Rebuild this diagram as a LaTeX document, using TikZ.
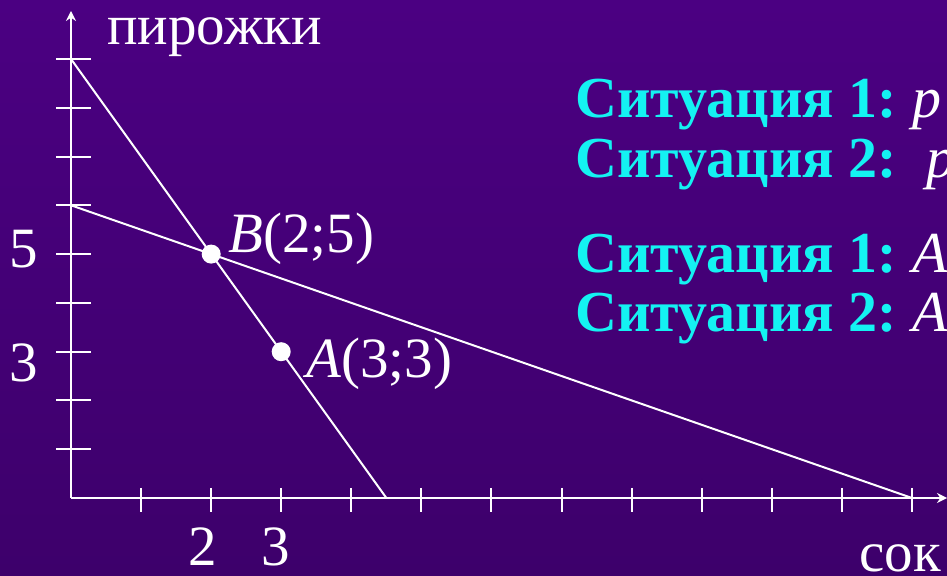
\documentclass[tikz,border=0pt]{standalone}
\usepackage{fontspec}
\setmainfont{Liberation Serif}
\usetikzlibrary{arrows.meta}
\definecolor{bgtop}{HTML}{4B0082}
\definecolor{bgbot}{HTML}{3D006B}
\definecolor{sitcol}{HTML}{14F2F2}
\begin{document}
\begin{tikzpicture}[x=0.5pt,y=-0.5pt,
  axis/.style={white,line width=1pt},
  tickmark/.style={white,line width=1pt},
  budget/.style={white,line width=1pt},
  dot/.style={circle,fill=white,inner sep=0pt,minimum size=9.5pt},
  lab/.style={text=white,inner sep=0pt,font=\fontsize{28.5}{32}\selectfont},
  sit/.style={text=sitcol,inner sep=0pt,anchor=base west,font=\bfseries\fontsize{29}{33}\selectfont}]
\shade[top color=bgtop,bottom color=bgbot] (0,0) rectangle (947,576);
\useasboundingbox (0,0) rectangle (947,576);
% axes
\coordinate (O) at (71,498);
\coordinate (Ytop) at (71,11);
\coordinate (Xend) at (947,498);
\draw[axis,-{Stealth[length=5pt,width=5pt]}] (O) -- (Ytop);
\draw[axis,-{Stealth[length=5pt,width=5pt]}] (O) -- (Xend);
\foreach \k in {1,...,9}
  \draw[tickmark] (56,{498-\k*48.78}) -- (91,{498-\k*48.78});
\foreach \k in {1,...,12}
  \draw[tickmark] ({71+\k*70.08},488) -- ({71+\k*70.08},512);
% budget lines
\coordinate (Y9) at (71,59);
\coordinate (X45) at (386.4,498);
\coordinate (Y6) at (71,205.3);
\coordinate (X12) at (912,498);
\draw[budget] (Y9) -- (X45);
\draw[budget] (Y6) -- (X12);
% points
\node[dot] (B) at (211.2,254.1) {};
\node[dot] (A) at (281.2,351.7) {};
\node[lab,anchor=base west] (Blab) at (228,253) {\textit{B}(2;5)};
\node[lab,anchor=base west] (Alab) at (306,378) {\textit{A}(3;3)};
% axis labels
\node[lab,anchor=base west] (ylab) at (107,45) {пирожки};
\node[lab,anchor=base west] (xlab) at (859,571) {сок};
\node[lab,anchor=base] (y5) at (24,268) {5};
\node[lab,anchor=base] (y3) at (24,382) {3};
\node[lab,anchor=base] (x2) at (203,566) {2};
\node[lab,anchor=base] (x3) at (276,566) {3};
% situations
\begin{scope}
\clip (0,0) rectangle (947,576);
\node[sit] (s1) at (575,118) {Ситуация 1:\hspace{8pt}\textcolor{white}{\mdseries\itshape p}};
\node[sit] (s2) at (575,178) {Ситуация 2:\hspace{15pt}\textcolor{white}{\mdseries\itshape p}};
\node[sit] (s3) at (575,273) {Ситуация 1:\hspace{8pt}\textcolor{white}{\mdseries\itshape A}};
\node[sit] (s4) at (575,332) {Ситуация 2:\hspace{8pt}\textcolor{white}{\mdseries\itshape A}};
\end{scope}
\end{tikzpicture}
\end{document}
